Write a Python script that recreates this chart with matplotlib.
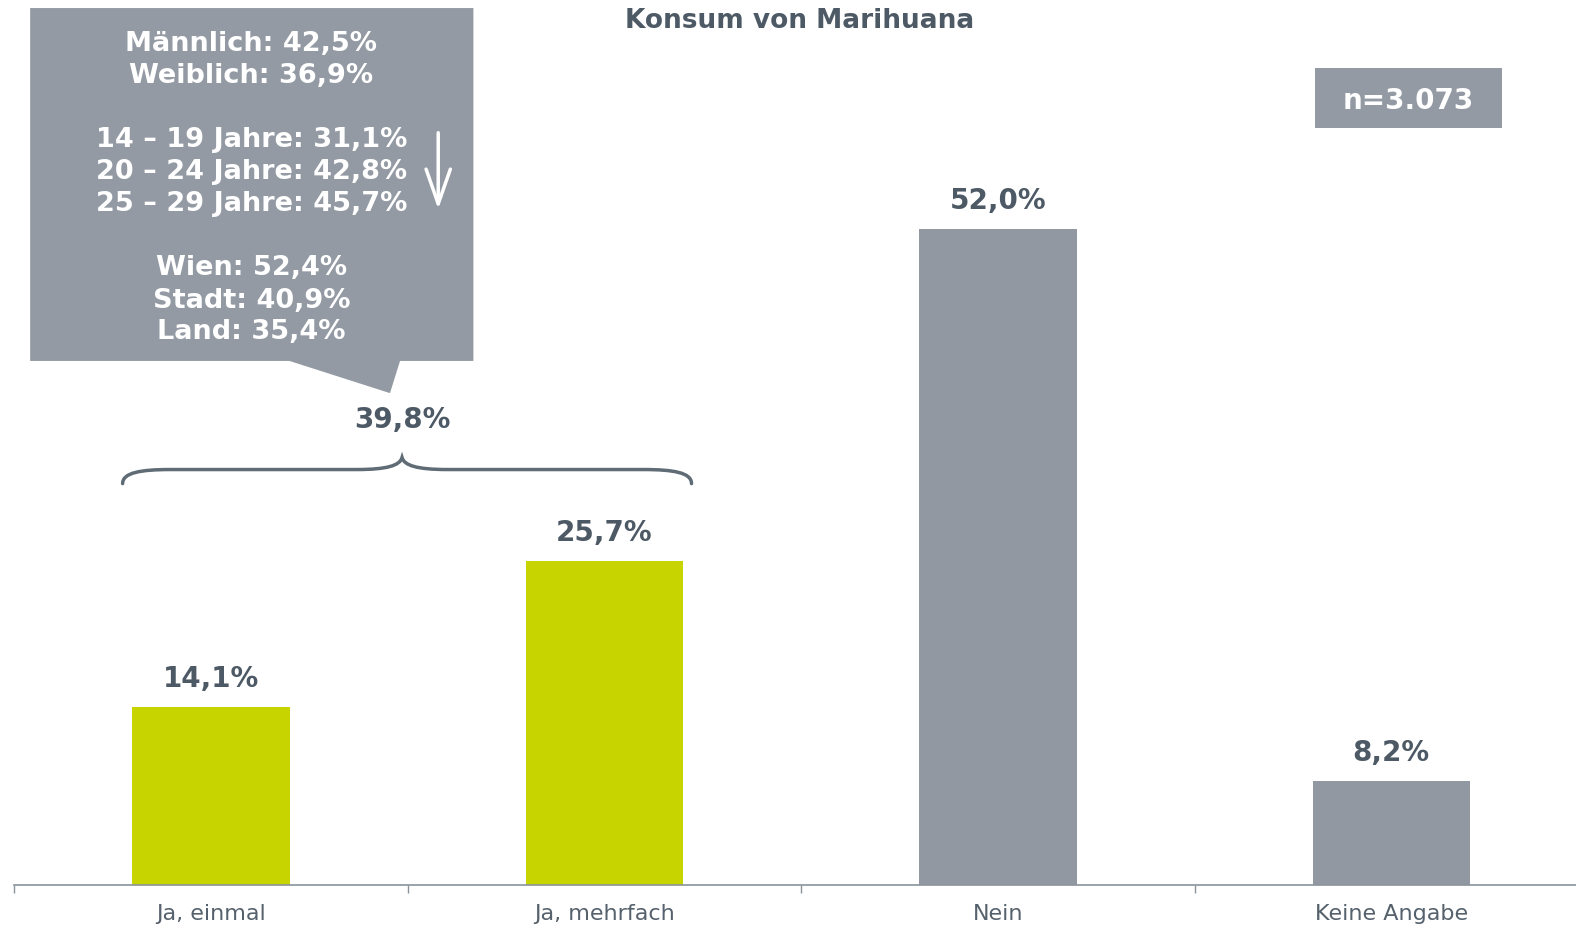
import matplotlib
matplotlib.use("Agg")
import matplotlib.pyplot as plt
from matplotlib.patches import Polygon, Rectangle, PathPatch, FancyArrowPatch
from matplotlib.path import Path

# ---- data ----
categories = ["Ja, einmal", "Ja, mehrfach", "Nein", "Keine Angabe"]
values = [14.1, 25.7, 52.0, 8.2]
value_labels = ["14,1%", "25,7%", "52,0%", "8,2%"]
bar_colors = ["#C8D400", "#C8D400", "#9198A1", "#9198A1"]
title = "Konsum von Marihuana"
sum_label = "39,8%"
sample_label = "n=3.073"
callout_lines = [
    "Männlich: 42,5%", "Weiblich: 36,9%",
    "14 – 19 Jahre: 31,1%", "20 – 24 Jahre: 42,8%", "25 – 29 Jahre: 45,7%",
    "Wien: 52,4%", "Stadt: 40,9%", "Land: 35,4%",
]

W, H = 1576, 927
# layout measured on a 1568x922 view
DW, DH = 1568, 922
TXT = "#4D5A66"
plt.rcParams['font.family'] = ['DejaVu Sans']

fig = plt.figure(figsize=(W / 100, H / 100), dpi=100)

ax_left, ax_base = 14, 880
cat_w = 391.5
ax = fig.add_axes([ax_left / DW, (DH - ax_base) / DH, 4 * cat_w / DW, ax_base / DH])
ax.set_xlim(-0.5, 3.5)
ax.set_ylim(0, ax_base / 12.54)
x = list(range(len(categories)))
ax.bar(x, values, width=0.4, color=bar_colors, zorder=2)
for xi, v, lab in zip(x, values, value_labels):
    ax.annotate(lab, (xi, v), xytext=(0, 20), textcoords='offset pixels',
                ha='center', va='baseline', fontsize=20, fontweight='bold', color=TXT)

for s in ["top", "right", "left"]:
    ax.spines[s].set_visible(False)
ax.spines["bottom"].set_color("#8A939C")
ax.spines["bottom"].set_linewidth(1.2)
ax.set_yticks([])
ax.set_xticks(x)
ax.set_xticklabels(categories, fontsize=16, color="#55616C")
ax.tick_params(axis='x', which='major', length=0, pad=14)
ax.set_xticks([-0.5, 0.5, 1.5, 2.5], minor=True)
ax.tick_params(axis='x', which='minor', length=6, color="#8A939C", width=1)
ax.patch.set_alpha(0)

# overlay in (display) pixel coordinates for annotations
ov = fig.add_axes([0, 0, 1, 1], zorder=5)
ov.set_xlim(0, DW)
ov.set_ylim(DH, 0)
ov.axis("off")
ov.patch.set_alpha(0)

ov.text(796, 28, title, ha='center', va='baseline', fontsize=19,
        fontweight='bold', color=TXT)

# callout box
poly = Polygon([(30, 8), (471, 8), (471, 359), (398, 359), (388, 391),
                (288, 359), (30, 359)], closed=True, facecolor="#939AA3",
               edgecolor="none")
ov.add_patch(poly)
baselines = [51, 83, 146, 178, 210, 274, 306, 337]
for line, yb in zip(callout_lines, baselines):
    ov.text(250, yb, line, ha='center', va='baseline', fontsize=19.5,
            fontweight='bold', color="white")
arr = FancyArrowPatch((436, 132), (436, 208), arrowstyle='->,head_length=10,head_width=3.5',
                      mutation_scale=2.5, color='white', lw=2.5, shrinkA=0, shrinkB=0)
ov.add_patch(arr)

# brace
verts = [(122, 481), (122, 470), (140, 467), (170, 467),
         (355, 467),
         (385, 467), (398, 463), (400, 455),
         (402, 463), (415, 467), (445, 467),
         (640, 467),
         (670, 467), (688, 470), (688, 481)]
codes = [Path.MOVETO, Path.CURVE4, Path.CURVE4, Path.CURVE4,
         Path.LINETO,
         Path.CURVE4, Path.CURVE4, Path.CURVE4,
         Path.CURVE4, Path.CURVE4, Path.CURVE4,
         Path.LINETO,
         Path.CURVE4, Path.CURVE4, Path.CURVE4]
ov.add_patch(PathPatch(Path(verts, codes), facecolor='none', edgecolor="#5F6B75",
                       lw=2.5, capstyle='round'))
ov.text(400, 426, sum_label, ha='center', va='baseline', fontsize=20,
        fontweight='bold', color=TXT)

# sample size box
ov.add_patch(Rectangle((1308, 68), 186, 59, facecolor="#939AA3", edgecolor="none"))
ov.text(1401, 108, sample_label, ha='center', va='baseline', fontsize=20,
        fontweight='bold', color="white")

fig.savefig("out.png", dpi=100)
